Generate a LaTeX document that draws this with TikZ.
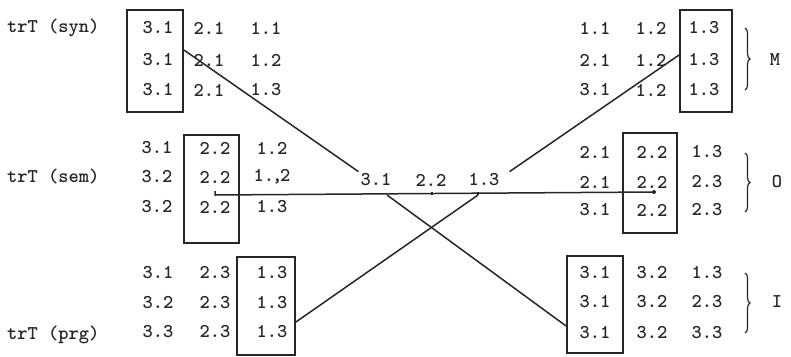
\documentclass[tikz,border=0pt]{standalone}
\usepackage{tikz}
\usetikzlibrary{positioning, decorations.pathreplacing}
\tikzset{
    zelle/.style   = {font=\fontsize{19.5}{21}\selectfont\ttfamily\bfseries, inner sep=2pt, text=black!85},
    beschr/.style  = {zelle, anchor=west},
    spalte/.style  = {draw=black!85, line width=1.8pt, inner sep=0pt},
    verb/.style    = {draw=black!85, line width=1.5pt},
    klammer/.style = {draw=black!85, line width=1.2pt, decorate, decoration={brace, amplitude=5pt}}
}

\begin{document}
\begin{tikzpicture}[x=1pt, y=-1pt]
    \useasboundingbox (0,0) rectangle (791,356);

    % --- links: trT (syn) ---
    \node[beschr] (lsyn) at (5,28) {trT (syn)};
    \node[spalte, minimum width=56pt, minimum height=102pt] (bsyn) at (155,61) {};
    \node[zelle] (s11) at (158,28) {3.1}; \node[zelle] (s12) at (209,28) {2.1}; \node[zelle] (s13) at (266,28) {1.1};
    \node[zelle] (s21) at (158,60) {3.1}; \node[zelle] (s22) at (209,60) {2.1}; \node[zelle] (s23) at (266,60) {1.2};
    \node[zelle] (s31) at (158,90) {3.1}; \node[zelle] (s32) at (209,90) {2.1}; \node[zelle] (s33) at (266,90) {1.3};

    % --- links: trT (sem) ---
    \node[beschr] (lsem) at (5,177) {trT (sem)};
    \node[spalte, minimum width=55pt, minimum height=108pt] (bsem) at (211.5,189) {};
    \node[zelle] (m11) at (157,148) {3.1}; \node[zelle] (m12) at (215,148) {2.2}; \node[zelle] (m13) at (272,148) {1.2};
    \node[zelle] (m21) at (157,177) {3.2}; \node[zelle] (m22) at (215,177) {2.2}; \node[zelle] (m23) at (272,177) {1.\kern-2pt,\kern-2pt2};
    \node[zelle] (m31) at (157,207) {3.2}; \node[zelle] (m32) at (215,207) {2.2}; \node[zelle] (m33) at (272,207) {1.3};

    % --- links: trT (prg) ---
    \node[beschr] (lprg) at (5,335) {trT (prg)};
    \node[spalte, minimum width=58pt, minimum height=98pt] (bprg) at (266,306) {};
    \node[zelle] (p11) at (158,273) {3.1}; \node[zelle] (p12) at (215,273) {2.3}; \node[zelle] (p13) at (272,273) {1.3};
    \node[zelle] (p21) at (158,303) {3.2}; \node[zelle] (p22) at (215,303) {2.3}; \node[zelle] (p23) at (272,303) {1.3};
    \node[zelle] (p31) at (158,332) {3.3}; \node[zelle] (p32) at (215,332) {2.3}; \node[zelle] (p33) at (272,332) {1.3};

    % --- Mitte ---
    \node[zelle] (c1) at (376,180) {3.1}; \node[zelle] (c2) at (431,180) {2.2}; \node[zelle] (c3) at (484,180) {1.3};

    % --- rechts: M ---
    \node[spalte, minimum width=52pt, minimum height=102pt] (bM) at (706,61) {};
    \node[zelle] (r11) at (595,28) {1.1}; \node[zelle] (r12) at (651,28) {1.2}; \node[zelle] (r13) at (704,28) {1.3};
    \node[zelle] (r21) at (595,60) {2.1}; \node[zelle] (r22) at (651,60) {1.2}; \node[zelle] (r23) at (704,60) {1.3};
    \node[zelle] (r31) at (595,90) {3.1}; \node[zelle] (r32) at (651,90) {1.2}; \node[zelle] (r33) at (704,90) {1.3};
    \draw[klammer] (745,28) -- (745,90);
    \node[zelle] (nM) at (775,60) {M};

    % --- rechts: O ---
    \node[spalte, minimum width=54pt, minimum height=100pt] (bO) at (650,183) {};
    \node[zelle] (o11) at (595,152) {2.1}; \node[zelle] (o12) at (652,152) {2.2}; \node[zelle] (o13) at (707,152) {1.3};
    \node[zelle] (o21) at (595,182) {2.1}; \node[zelle] (o22) at (652,182) {2.2}; \node[zelle] (o23) at (707,182) {2.3};
    \node[zelle] (o31) at (595,210) {3.1}; \node[zelle] (o32) at (652,210) {2.2}; \node[zelle] (o33) at (707,210) {2.3};
    \draw[klammer] (745,153) -- (745,212);
    \node[zelle] (nO) at (777,182) {O};

    % --- rechts: I ---
    \node[spalte, minimum width=56pt, minimum height=97pt] (bI) at (595,304.5) {};
    \node[zelle] (i11) at (595,273) {3.1}; \node[zelle] (i12) at (652,273) {3.2}; \node[zelle] (i13) at (707,273) {1.3};
    \node[zelle] (i21) at (595,302) {3.1}; \node[zelle] (i22) at (652,302) {3.2}; \node[zelle] (i23) at (707,302) {2.3};
    \node[zelle] (i31) at (595,333) {3.1}; \node[zelle] (i32) at (652,333) {3.2}; \node[zelle] (i33) at (707,333) {3.3};
    \draw[klammer] (745,273) -- (745,333);
    \node[zelle] (nI) at (777,302) {I};

    % --- Verbindungen ---
    \coordinate (hl) at (215,195);
    \coordinate (hr) at (654,192);
    \coordinate (k1) at (387,195);
    \coordinate (k2) at (432,195);
    \coordinate (k3) at (478,195);
    \draw[verb] ([yshift=11pt]bsyn.east) -- (c1.north west);
    \draw[verb] ([yshift=6pt]bM.west) -- ([xshift=8pt]c3.north east);
    \draw[verb] (hl) ++(0,-4) -- (hl) -- (hr);
    \fill[black!85] (hr) circle (2pt);
    \draw[verb] (k2) -- ++(0,-3);
    \draw[verb] (k3) -- ++(0,-3);
    \draw[verb] (k1) -- ([yshift=-21.5pt]bI.west);
    \draw[verb] ([yshift=-16pt]bprg.east) -- (k3);
\end{tikzpicture}
\end{document}
